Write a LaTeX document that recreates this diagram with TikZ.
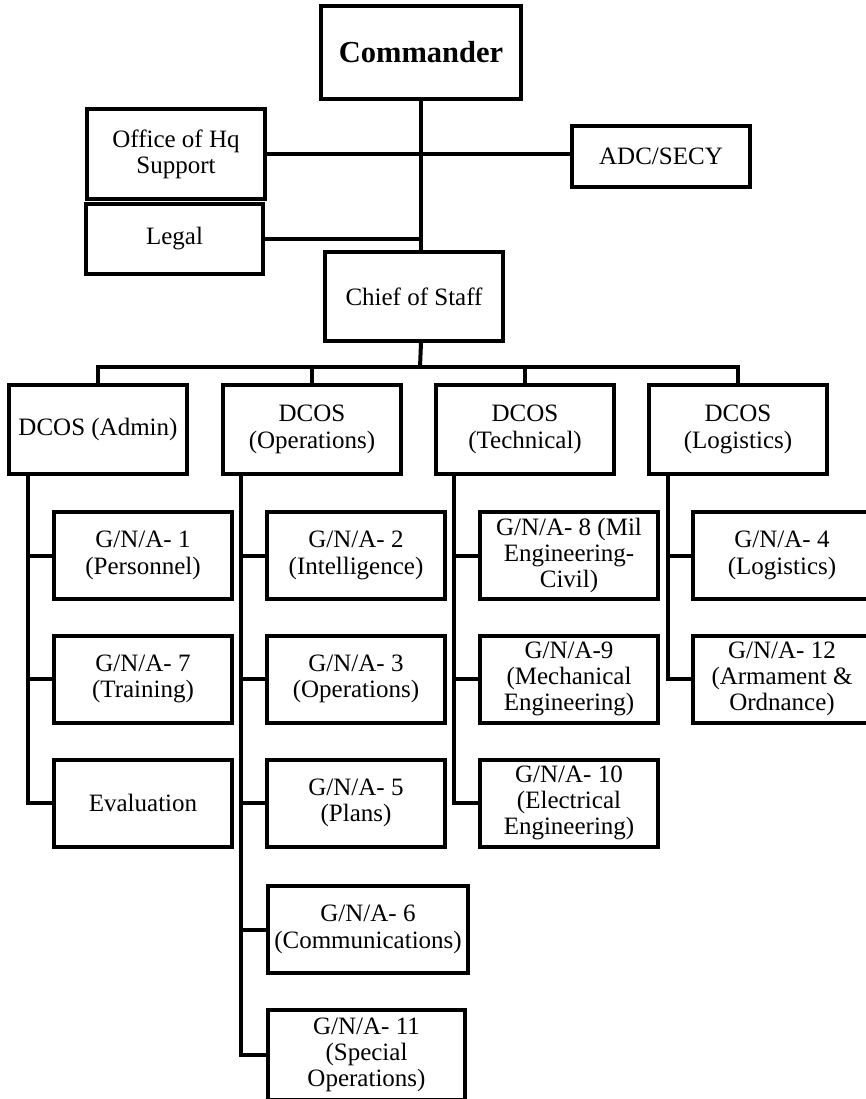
\documentclass[tikz,border=0pt]{standalone}
\usepackage{fontspec}
\setmainfont{Liberation Serif}
\begin{document}
\begin{tikzpicture}[x=1pt,y=-1pt,line width=4pt,
  box/.style={draw,line width=4pt,rectangle,inner sep=0pt,align=center,
    minimum width=178pt,minimum height=87pt,font=\fontsize{25}{26.3}\selectfont},
  conn/.style={line width=4pt}]
\fill[white] (0,0) rectangle (866,1099);
\useasboundingbox (0,0) rectangle (866,1099);
% top
\node[box,minimum width=200pt,minimum height=93pt,font=\bfseries\fontsize{30.5}{32}\selectfont] (cmd) at (421,52.5) {Commander};
\node[box,minimum height=90pt] (hq) at (176,154.5) {Office of Hq\\Support};
\node[box,minimum width=177pt,minimum height=70pt] (legal) at (174.5,239) {Legal};
\node[box,minimum height=61pt] (adc) at (661,156.5) {ADC/SECY};
\node[box,minimum height=89pt] (cos) at (414,296.5) {Chief of Staff};
% DCOS
\node[box,minimum height=89pt] (dA) at (98,429.5) {DCOS (Admin)};
\node[box,minimum height=89pt] (dO) at (312,429.5) {DCOS\\(Operations)};
\node[box,minimum height=89pt] (dT) at (525,429.5) {DCOS\\(Technical)};
\node[box,minimum height=89pt] (dL) at (738,429.5) {DCOS\\(Logistics)};
% admin
\node[box] (a1) at (143,555.5) {G/N/A- 1\\(Personnel)};
\node[box] (a7) at (143,679) {G/N/A- 7\\(Training)};
\node[box] (ev) at (143,803) {Evaluation};
% operations
\node[box] (o2) at (356,555.5) {G/N/A- 2\\(Intelligence)};
\node[box] (o3) at (356,679) {G/N/A- 3\\(Operations)};
\node[box] (o5) at (356,803) {G/N/A- 5\\(Plans)};
\node[box,minimum width=200pt] (o6) at (368,929.5) {G/N/A- 6\\(Communications)};
\node[box,minimum width=197pt,minimum height=90pt] (o11) at (366.5,1055) {G/N/A- 11\\(Special\\Operations)};
% technical
\node[box] (t8) at (569,555.5) {G/N/A- 8 (Mil\\Engineering-\\Civil)};
\node[box] (t9) at (569,679) {G/N/A-9\\(Mechanical\\Engineering)};
\node[box] (t10) at (569,803) {G/N/A- 10\\(Electrical\\Engineering)};
% logistics
\node[box] (l4) at (782,555.5) {G/N/A- 4\\(Logistics)};
\node[box] (l12) at (782,679) {G/N/A- 12\\(Armament \&\\Ordnance)};
% connectors top
\draw[conn] (cmd.south) -- (cmd.south |- cos.north);
\draw[conn] (hq.east) -- (hq.east -| adc.west);
\draw[conn] (legal.east) -- (legal.east -| cmd.south);
\coordinate (bus) at (420,367);
\draw[conn] (cos.south -| cmd.south) -- (bus);
\draw[conn] (dA.north) |- (bus) -| (dL.north);
\draw[conn] (dO.north) -- (dO.north |- bus);
\draw[conn] (dT.north) -- (dT.north |- bus);
% spines
\coordinate (sA) at (28,474);
\draw[conn] (sA) |- (ev.west);
\draw[conn] (sA |- a1.west) -- (a1.west);
\draw[conn] (sA |- a7.west) -- (a7.west);
\coordinate (sO) at (241,474);
\draw[conn] (sO) |- (o11.west);
\draw[conn] (sO |- o2.west) -- (o2.west);
\draw[conn] (sO |- o3.west) -- (o3.west);
\draw[conn] (sO |- o5.west) -- (o5.west);
\draw[conn] (sO |- o6.west) -- (o6.west);
\coordinate (sT) at (454,474);
\draw[conn] (sT) |- (t10.west);
\draw[conn] (sT |- t8.west) -- (t8.west);
\draw[conn] (sT |- t9.west) -- (t9.west);
\coordinate (sL) at (668,474);
\draw[conn] (sL) |- (l12.west);
\draw[conn] (sL |- l4.west) -- (l4.west);
\end{tikzpicture}
\end{document}
